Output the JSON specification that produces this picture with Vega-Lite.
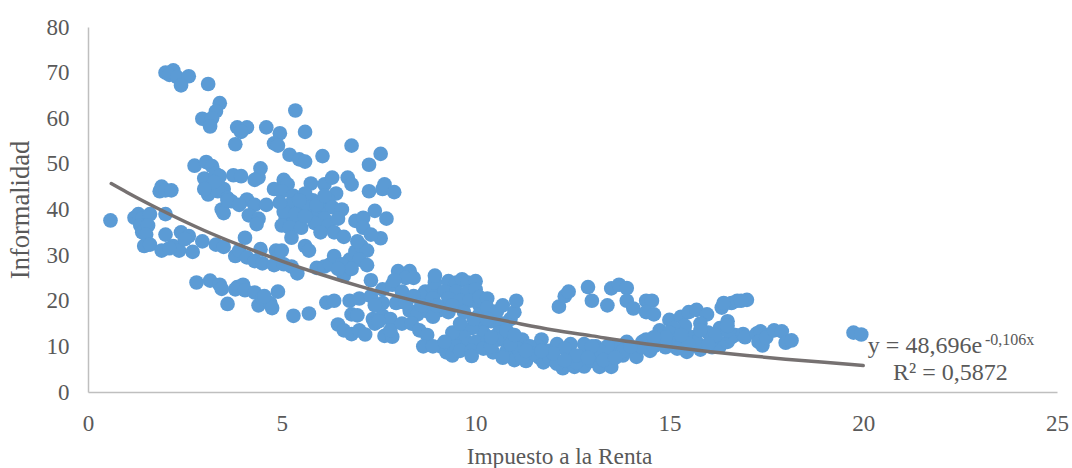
{"$schema":"https://vega.github.io/schema/vega-lite/v6.json","width":969,"height":365,"autosize":"none","padding":{"left":88,"top":27,"right":15,"bottom":76},"background":"white","config":{"view":{"stroke":null},"font":"Liberation Serif"},
"datasets":{"pts":[
{"x":2.0,"y":70},{"x":2.2,"y":70.5},{"x":2.1,"y":69.5},{"x":2.3,"y":69},{"x":2.6,"y":69.2},{"x":2.4,"y":67.2},{"x":3.1,"y":67.5},{"x":3.4,"y":63.3},{"x":3.3,"y":61.5},{"x":2.95,"y":59.9},{"x":3.2,"y":60},{"x":3.15,"y":58.2},{"x":3.85,"y":58},{"x":4.1,"y":58},{"x":3.95,"y":57},{"x":4.6,"y":58},{"x":4.95,"y":56.7},{"x":3.8,"y":54.3},{"x":4.8,"y":54.5},{"x":4.9,"y":54},{"x":5.35,"y":61.7},{"x":5.6,"y":57},{"x":5.2,"y":52},{"x":5.45,"y":51},{"x":5.6,"y":50.5},{"x":6.05,"y":51.7},{"x":6.8,"y":54},{"x":7.55,"y":52.2},{"x":7.25,"y":49.8},
{"x":2.75,"y":49.6},{"x":3.05,"y":50.4},{"x":3.2,"y":49.5},{"x":3.0,"y":46.8},{"x":3.3,"y":47.8},{"x":3.4,"y":47.3},{"x":3.2,"y":45},{"x":3.5,"y":44.5},{"x":3.1,"y":43.3},{"x":3.35,"y":44},{"x":3.6,"y":42.5},{"x":3.75,"y":47.5},{"x":3.95,"y":47.3},{"x":4.45,"y":49},{"x":4.4,"y":47},{"x":4.3,"y":46.5},{"x":3.45,"y":40},{"x":3.5,"y":39.2},{"x":3.7,"y":41.8},{"x":4.1,"y":42.2},{"x":4.3,"y":41},{"x":4.6,"y":41},{"x":4.15,"y":38.7},{"x":4.4,"y":38},{"x":4.35,"y":36.8},{"x":4.8,"y":44.5},{"x":5.05,"y":46.5},{"x":5.15,"y":45.5},{"x":5.0,"y":44},{"x":5.3,"y":43},{"x":5.2,"y":41},{"x":5.5,"y":40},{"x":5.1,"y":38},{"x":5.3,"y":37.5},{"x":5.0,"y":36.5},{"x":5.2,"y":36},{"x":5.5,"y":36},{"x":5.75,"y":45.7},{"x":6.1,"y":45.5},{"x":6.3,"y":47},{"x":6.7,"y":47},{"x":6.8,"y":45.5},{"x":6.4,"y":43.5},{"x":6.2,"y":42},{"x":5.8,"y":42},{"x":5.7,"y":40.5},{"x":6.0,"y":40},{"x":6.3,"y":40.5},{"x":6.55,"y":40},{"x":5.9,"y":38.5},{"x":6.1,"y":38},{"x":5.85,"y":37},{"x":6.2,"y":36.5},{"x":6.0,"y":35},{"x":6.35,"y":35},{"x":6.9,"y":37.5},{"x":7.1,"y":38.2},{"x":7.4,"y":39.7},{"x":7.25,"y":44},{"x":7.6,"y":44.5},{"x":7.65,"y":45.5},{"x":7.9,"y":43.8},{"x":7.7,"y":38},{"x":7.55,"y":33.7},{"x":7.1,"y":36},{"x":7.3,"y":34.5},{"x":5.25,"y":33.8},{"x":5.05,"y":39.5},{"x":5.35,"y":39},{"x":5.6,"y":38.5},{"x":5.9,"y":41},{"x":6.1,"y":43},{"x":6.45,"y":38},{"x":5.6,"y":43.5},{"x":4.95,"y":41.5},{"x":5.45,"y":42},{"x":3.25,"y":46},{"x":3.0,"y":44.5},{"x":3.6,"y":42},{"x":3.9,"y":41},
{"x":0.58,"y":37.6},{"x":1.2,"y":38.2},{"x":1.3,"y":39},{"x":1.4,"y":38},{"x":1.6,"y":39},{"x":1.35,"y":36.5},{"x":1.4,"y":35},{"x":1.55,"y":36.5},{"x":1.5,"y":34.5},{"x":1.45,"y":32},{"x":1.6,"y":32.3},{"x":1.85,"y":44},{"x":1.9,"y":45},{"x":2.0,"y":44.2},{"x":2.15,"y":44.2},{"x":2.0,"y":39},{"x":1.9,"y":31},{"x":2.0,"y":34.5},{"x":2.2,"y":32},{"x":2.35,"y":31},{"x":2.4,"y":35},{"x":2.6,"y":34.2},{"x":2.7,"y":30.7},{"x":2.1,"y":31.5},{"x":2.5,"y":33.5},{"x":2.95,"y":33},{"x":3.3,"y":32.3},{"x":3.5,"y":31.8},
{"x":3.8,"y":29.8},{"x":3.9,"y":31},{"x":4.05,"y":33.8},{"x":4.1,"y":29.5},{"x":4.3,"y":28.7},{"x":4.45,"y":31.3},{"x":4.5,"y":28.2},{"x":4.85,"y":31},{"x":4.9,"y":29.5},{"x":4.8,"y":27.8},{"x":5.05,"y":28},{"x":5.25,"y":27.5},{"x":5.0,"y":31},{"x":5.4,"y":26},{"x":5.6,"y":32},{"x":5.7,"y":31},{"x":5.9,"y":27.2},{"x":6.1,"y":27.5},{"x":6.25,"y":28},{"x":6.35,"y":29.8},{"x":6.6,"y":34},{"x":6.75,"y":29},{"x":6.55,"y":28},{"x":6.6,"y":25.5},{"x":6.9,"y":30.8},{"x":7.05,"y":32},{"x":7.2,"y":31},{"x":7.0,"y":29},{"x":7.2,"y":27.8},{"x":7.3,"y":24.5},{"x":6.95,"y":33},{"x":6.8,"y":27},{"x":6.45,"y":27},
{"x":2.8,"y":24},{"x":3.15,"y":24.4},{"x":3.4,"y":23.5},{"x":3.45,"y":22.6},{"x":3.85,"y":23},{"x":4.0,"y":23.5},{"x":3.8,"y":22.5},{"x":4.05,"y":22.3},{"x":4.3,"y":21.8},{"x":4.4,"y":19},{"x":4.5,"y":20.5},{"x":4.7,"y":19.5},{"x":4.75,"y":18.4},{"x":4.9,"y":22},{"x":4.55,"y":21},{"x":3.6,"y":19.3},{"x":5.3,"y":16.7},{"x":5.7,"y":17.2},{"x":6.15,"y":19.6},{"x":6.35,"y":20},{"x":6.75,"y":20},{"x":7.0,"y":20.5},{"x":7.3,"y":21},{"x":7.6,"y":22.5},{"x":7.85,"y":23.5},{"x":8.0,"y":26.5},{"x":8.3,"y":26.5},{"x":8.2,"y":25},{"x":7.9,"y":24.5},{"x":6.45,"y":14.8},{"x":6.6,"y":13.5},{"x":6.8,"y":12.7},{"x":6.8,"y":17},{"x":6.95,"y":16.8},{"x":7.0,"y":13.5},{"x":7.15,"y":12.6},{"x":7.35,"y":16},{"x":7.4,"y":15},{"x":7.6,"y":16.7},{"x":7.8,"y":16},{"x":7.65,"y":12.3},{"x":7.85,"y":12.1},{"x":7.8,"y":13.5},{"x":7.5,"y":15.5},{"x":7.95,"y":19.5},{"x":8.1,"y":15},{"x":8.3,"y":17.8},{"x":8.5,"y":17},{"x":8.35,"y":15},{"x":8.55,"y":13.5},{"x":8.75,"y":12.5},{"x":8.65,"y":10},{"x":9.1,"y":10},{"x":8.9,"y":10},{"x":9.25,"y":8.7},{"x":9.4,"y":8},{"x":8.8,"y":17.5},{"x":9.1,"y":18},{"x":8.9,"y":16.5},{"x":9.3,"y":17.5},{"x":7.6,"y":19.5},{"x":8.1,"y":22},{"x":7.4,"y":19},
{"x":8.4,"y":25},{"x":8.7,"y":22},{"x":8.9,"y":22.5},{"x":8.95,"y":24},{"x":8.95,"y":25.5},{"x":9.3,"y":24.3},{"x":9.5,"y":24},{"x":9.65,"y":24.7},{"x":9.8,"y":24},{"x":10.0,"y":24.3},{"x":9.2,"y":22},{"x":9.5,"y":22},{"x":9.8,"y":22},{"x":10.0,"y":22.5},{"x":8.6,"y":21},{"x":8.9,"y":20.5},{"x":9.3,"y":20.5},{"x":9.6,"y":20},{"x":9.85,"y":20},{"x":10.1,"y":19},{"x":9.0,"y":19},{"x":9.4,"y":19},{"x":8.4,"y":21},{"x":8.2,"y":19.5},{"x":8.6,"y":19},{"x":10.1,"y":17},{"x":10.1,"y":20.8},{"x":10.3,"y":20.5},{"x":10.3,"y":18.5},{"x":10.55,"y":17.7},{"x":10.9,"y":16},{"x":11.0,"y":17.5},{"x":11.05,"y":20},{"x":10.1,"y":15},{"x":10.4,"y":15.5},{"x":10.7,"y":15},{"x":10.2,"y":13},{"x":10.6,"y":13},{"x":9.6,"y":13},{"x":9.9,"y":14},{"x":9.7,"y":12},{"x":9.4,"y":11.5},{"x":9.5,"y":10},{"x":9.8,"y":10.5},{"x":10.0,"y":11},{"x":10.3,"y":11},{"x":10.6,"y":11.5},{"x":10.9,"y":12},{"x":11.2,"y":11.5},{"x":9.6,"y":9},{"x":9.9,"y":9},{"x":9.9,"y":7.9},{"x":10.2,"y":9.5},{"x":10.45,"y":8.7},{"x":10.8,"y":9},{"x":11.0,"y":7},{"x":11.1,"y":9.5},{"x":11.4,"y":8},{"x":11.3,"y":6.8},{"x":11.65,"y":7.5},{"x":11.75,"y":6.5},{"x":11.7,"y":11.5},{"x":11.6,"y":10},{"x":11.9,"y":9},{"x":12.0,"y":7},{"x":12.1,"y":10.5},{"x":12.2,"y":6},{"x":12.25,"y":5.2},{"x":12.4,"y":8},{"x":12.45,"y":10.5},{"x":12.55,"y":5.5},{"x":12.7,"y":7},{"x":12.8,"y":5.6},{"x":12.9,"y":9},{"x":13.0,"y":6.8},{"x":13.1,"y":10},{"x":13.2,"y":5.5},{"x":13.5,"y":5.5},{"x":13.35,"y":8},{"x":13.6,"y":10},{"x":13.8,"y":8},{"x":14.0,"y":9.5},{"x":14.15,"y":7.7},{"x":14.3,"y":11},{"x":14.5,"y":9},{"x":14.7,"y":11},{"x":14.9,"y":9.8},{"x":14.75,"y":13.5},{"x":15.2,"y":11.5},{"x":15.4,"y":13},{"x":15.6,"y":12},{"x":15.45,"y":8.8},{"x":15.8,"y":9.3},{"x":16.1,"y":9.8},{"x":16.3,"y":10},{"x":16.5,"y":11},{"x":16.6,"y":12},{"x":16.1,"y":11.5},{"x":15.0,"y":11},{"x":15.2,"y":9.5},{"x":15.7,"y":11},{"x":16.0,"y":13},{"x":16.3,"y":14},{"x":14.4,"y":11.5},{"x":13.9,"y":11},{"x":13.4,"y":10},{"x":12.8,"y":10.5},{"x":12.3,"y":9.5},{"x":11.4,"y":10},{"x":11.9,"y":7.5},{"x":12.6,"y":6.5},{"x":13.0,"y":8.5},{"x":13.8,"y":9},{"x":14.3,"y":9.8},
{"x":12.15,"y":18.7},{"x":12.3,"y":21},{"x":12.4,"y":22},{"x":12.9,"y":23},{"x":13.0,"y":20},{"x":13.4,"y":19},{"x":13.5,"y":22.7},{"x":13.7,"y":23.5},{"x":13.9,"y":22.8},{"x":13.9,"y":20},{"x":14.07,"y":18.3},{"x":14.4,"y":20},{"x":14.55,"y":20},{"x":14.4,"y":17.5},{"x":14.6,"y":17},{"x":15.0,"y":15.8},{"x":15.3,"y":16.5},{"x":15.5,"y":17.5},{"x":15.7,"y":18},{"x":15.97,"y":17},{"x":16.5,"y":15.5},{"x":16.35,"y":18.5},{"x":16.6,"y":19.5},{"x":16.4,"y":19.5},{"x":16.75,"y":20},{"x":17.0,"y":20.2},{"x":16.85,"y":20},{"x":15.4,"y":14.5},{"x":15.8,"y":15},{"x":15.1,"y":14},{"x":16.7,"y":12.5},{"x":16.9,"y":12.7},{"x":16.95,"y":12},{"x":17.25,"y":12.8},{"x":17.35,"y":13.3},{"x":17.3,"y":11},{"x":17.4,"y":10.2},{"x":17.5,"y":12},{"x":17.7,"y":13.5},{"x":17.9,"y":13.3},{"x":18.0,"y":10.8},{"x":18.15,"y":11.3},
{"x":19.75,"y":13},{"x":19.95,"y":12.6},
{"x":12.1,"y":6.2},{"x":12.6,"y":8},{"x":11.5,"y":8.5},{"x":10.9,"y":10.5},{"x":14.0,"y":10},{"x":14.8,"y":13},{"x":10.4,"y":10},{"x":9.95,"y":16},{"x":9.7,"y":17.5},{"x":9.4,"y":13},{"x":13.2,"y":9},{"x":12.0,"y":8.5},{"x":11.2,"y":7.5},{"x":10.7,"y":7.5},{"x":9.2,"y":11},
{"x":15.0,"y":13},{"x":15.5,"y":10.5},{"x":16.2,"y":12.5},{"x":16.5,"y":13.5},{"x":14.6,"y":10},{"x":14.9,"y":12},{"x":15.3,"y":12.5},{"x":15.8,"y":13.5},{"x":16.0,"y":10.5},{"x":16.5,"y":14.5},{"x":10.4,"y":12},{"x":11.3,"y":9},{"x":12.3,"y":7},{"x":13.0,"y":10},{"x":11.7,"y":9},{"x":12.9,"y":7.5},{"x":13.3,"y":7},{"x":13.6,"y":7.5},{"x":14.6,"y":12},{"x":9.6,"y":15},{"x":10.7,"y":19},{"x":10.3,"y":16},{"x":10.8,"y":13.5},{"x":11.0,"y":12.5}
],
"trend":[{"x":0.6,"y":45.7},{"x":1,"y":43.8},{"x":2,"y":39.4},{"x":3,"y":35.4},{"x":4,"y":31.9},{"x":5,"y":28.7},{"x":6,"y":25.8},{"x":7,"y":23.2},{"x":8,"y":20.9},{"x":9,"y":18.8},{"x":10,"y":16.9},{"x":11,"y":15.2},{"x":12,"y":13.6},{"x":13,"y":12.3},{"x":14,"y":11},{"x":15,"y":9.9},{"x":16,"y":8.9},{"x":17,"y":8},{"x":18,"y":7.2},{"x":19,"y":6.5},{"x":20,"y":5.8}],
"eq":[{"x":20.12,"y":10,"t":"y = 48,696e"},{"x":20.77,"y":4.2,"t":"R² = 0,5872"}],
"sup":[{"x":23.14,"y":11.3,"t":"-0,106x"}]},
"layer":[
{"data":{"name":"pts"},"mark":{"type":"circle","size":215,"color":"#5b9bd5","opacity":1},"encoding":{
"x":{"field":"x","type":"quantitative","scale":{"domain":[0,25],"nice":false},"axis":{"title":"Impuesto a la Renta","titleX":471,"values":[0,5,10,15,20,25],"grid":false,"ticks":false,"labelFlush":false,"labelFontSize":23,"labelColor":"#595959","labelPadding":20,"titleFontSize":23.3,"titleColor":"#595959","titleFontWeight":"normal","titleFont":"Liberation Serif","labelFont":"Liberation Serif","domainColor":"#bfbfbf","domainWidth":1.5,"titlePadding":10}},
"y":{"field":"y","type":"quantitative","scale":{"domain":[0,80],"nice":false},"axis":{"title":"Informalidad","values":[0,10,20,30,40,50,60,70,80],"grid":false,"ticks":false,"labelFlush":false,"labelFontSize":23,"labelColor":"#595959","labelPadding":19,"titleFontSize":26.5,"titleColor":"#595959","titleFontWeight":"normal","titleFont":"Liberation Serif","labelFont":"Liberation Serif","domainColor":"#bfbfbf","domainWidth":1.5,"titlePadding":12}}}},
{"data":{"name":"trend"},"mark":{"type":"line","color":"#767171","strokeWidth":3.5,"interpolate":"monotone","strokeCap":"round"},"encoding":{"x":{"field":"x","type":"quantitative"},"y":{"field":"y","type":"quantitative"}}},
{"data":{"name":"eq"},"mark":{"type":"text","fontSize":24,"color":"#595959","align":"left","baseline":"middle","font":"Liberation Serif"},"encoding":{"x":{"field":"x","type":"quantitative"},"y":{"field":"y","type":"quantitative"},"text":{"field":"t"}}},
{"data":{"name":"sup"},"mark":{"type":"text","fontSize":16,"color":"#595959","align":"left","baseline":"middle","font":"Liberation Serif"},"encoding":{"x":{"field":"x","type":"quantitative"},"y":{"field":"y","type":"quantitative"},"text":{"field":"t"}}}
]}
